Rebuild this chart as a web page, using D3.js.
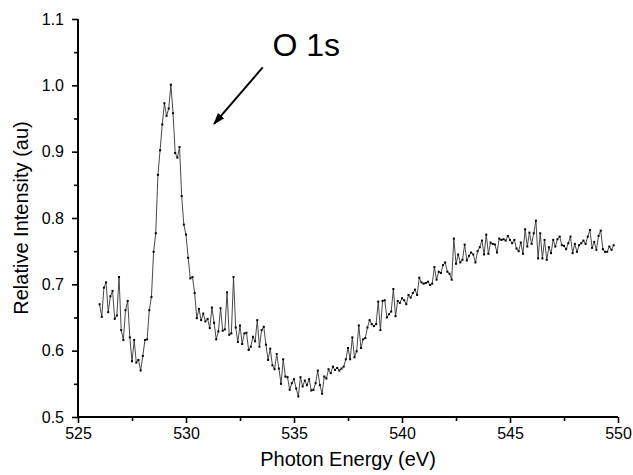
<!DOCTYPE html>
<html>
<head>
<meta charset="utf-8">
<script src="https://cdn.jsdelivr.net/npm/d3@7"></script>
<style>
  body { margin: 0; background: #fff; overflow: hidden; }
  text { font-family: Arial, "Liberation Sans", sans-serif; }
</style>
</head>
<body>
<svg id="plot" width="633" height="475"></svg>
<script>
// photon energy (eV), one sample every 0.1 eV
const energy = [
  526.0, 526.1, 526.2, 526.3, 526.4, 526.5, 526.6, 526.7, 526.8, 526.9,
  527.0, 527.1, 527.2, 527.3, 527.4, 527.5, 527.6, 527.7, 527.8, 527.9,
  528.0, 528.1, 528.2, 528.3, 528.4, 528.5, 528.6, 528.7, 528.8, 528.9,
  529.0, 529.1, 529.2, 529.3, 529.4, 529.5, 529.6, 529.7, 529.8, 529.9,
  530.0, 530.1, 530.2, 530.3, 530.4, 530.5, 530.6, 530.7, 530.8, 530.9,
  531.0, 531.1, 531.2, 531.3, 531.4, 531.5, 531.6, 531.7, 531.8, 531.9,
  532.0, 532.1, 532.2, 532.3, 532.4, 532.5, 532.6, 532.7, 532.8, 532.9,
  533.0, 533.1, 533.2, 533.3, 533.4, 533.5, 533.6, 533.7, 533.8, 533.9,
  534.0, 534.1, 534.2, 534.3, 534.4, 534.5, 534.6, 534.7, 534.8, 534.9,
  535.0, 535.1, 535.2, 535.3, 535.4, 535.5, 535.6, 535.7, 535.8, 535.9,
  536.0, 536.1, 536.2, 536.3, 536.4, 536.5, 536.6, 536.7, 536.8, 536.9,
  537.0, 537.1, 537.2, 537.3, 537.4, 537.5, 537.6, 537.7, 537.8, 537.9,
  538.0, 538.1, 538.2, 538.3, 538.4, 538.5, 538.6, 538.7, 538.8, 538.9,
  539.0, 539.1, 539.2, 539.3, 539.4, 539.5, 539.6, 539.7, 539.8, 539.9,
  540.0, 540.1, 540.2, 540.3, 540.4, 540.5, 540.6, 540.7, 540.8, 540.9,
  541.0, 541.1, 541.2, 541.3, 541.4, 541.5, 541.6, 541.7, 541.8, 541.9,
  542.0, 542.1, 542.2, 542.3, 542.4, 542.5, 542.6, 542.7, 542.8, 542.9,
  543.0, 543.1, 543.2, 543.3, 543.4, 543.5, 543.6, 543.7, 543.8, 543.9,
  544.0, 544.1, 544.2, 544.3, 544.4, 544.5, 544.6, 544.7, 544.8, 544.9,
  545.0, 545.1, 545.2, 545.3, 545.4, 545.5, 545.6, 545.7, 545.8, 545.9,
  546.0, 546.1, 546.2, 546.3, 546.4, 546.5, 546.6, 546.7, 546.8, 546.9,
  547.0, 547.1, 547.2, 547.3, 547.4, 547.5, 547.6, 547.7, 547.8, 547.9,
  548.0, 548.1, 548.2, 548.3, 548.4, 548.5, 548.6, 548.7, 548.8, 548.9,
  549.0, 549.1, 549.2, 549.3, 549.4, 549.5, 549.6, 549.7, 549.8
];

// relative intensity (au)
const intensity = [
  0.670, 0.651, 0.695, 0.703, 0.658, 0.682, 0.690, 0.648, 0.653, 0.711,
  0.631, 0.616, 0.661, 0.675, 0.620, 0.584, 0.616, 0.582, 0.586, 0.570,
  0.592, 0.616, 0.617, 0.661, 0.681, 0.749, 0.777, 0.865, 0.902, 0.941,
  0.973, 0.954, 0.965, 1.001, 0.958, 0.898, 0.891, 0.907, 0.833, 0.790,
  0.775, 0.740, 0.709, 0.711, 0.687, 0.649, 0.663, 0.646, 0.656, 0.644,
  0.648, 0.634, 0.665, 0.642, 0.617, 0.629, 0.664, 0.630, 0.632, 0.688,
  0.624, 0.626, 0.711, 0.635, 0.613, 0.638, 0.610, 0.626, 0.627, 0.601,
  0.606, 0.621, 0.614, 0.646, 0.606, 0.631, 0.636, 0.609, 0.586, 0.603,
  0.578, 0.572, 0.595, 0.573, 0.550, 0.587, 0.561, 0.560, 0.541, 0.551,
  0.557, 0.543, 0.531, 0.560, 0.546, 0.555, 0.548, 0.557, 0.540, 0.541,
  0.551, 0.570, 0.548, 0.535, 0.561, 0.558, 0.572, 0.566, 0.576, 0.571,
  0.574, 0.570, 0.573, 0.576, 0.587, 0.604, 0.587, 0.620, 0.590, 0.599,
  0.638, 0.604, 0.617, 0.619, 0.635, 0.646, 0.640, 0.637, 0.640, 0.674,
  0.631, 0.675, 0.676, 0.650, 0.655, 0.659, 0.693, 0.652, 0.675, 0.672,
  0.679, 0.676, 0.670, 0.684, 0.680, 0.687, 0.692, 0.684, 0.710, 0.703,
  0.701, 0.702, 0.704, 0.699, 0.701, 0.726, 0.707, 0.719, 0.717, 0.729,
  0.733, 0.719, 0.716, 0.707, 0.769, 0.731, 0.745, 0.733, 0.737, 0.760,
  0.736, 0.743, 0.748, 0.745, 0.733, 0.750, 0.756, 0.766, 0.745, 0.775,
  0.746, 0.763, 0.761, 0.760, 0.748, 0.769, 0.767, 0.768, 0.766, 0.773,
  0.767, 0.762, 0.767, 0.754, 0.750, 0.763, 0.746, 0.783, 0.757, 0.778,
  0.761, 0.777, 0.796, 0.739, 0.777, 0.739, 0.767, 0.737, 0.756, 0.747,
  0.767, 0.757, 0.768, 0.772, 0.759, 0.758, 0.753, 0.762, 0.772, 0.747,
  0.761, 0.749, 0.759, 0.762, 0.766, 0.761, 0.772, 0.782, 0.755, 0.764,
  0.752, 0.773, 0.781, 0.753, 0.749, 0.749, 0.757, 0.752, 0.759
];

const xTicks = [525, 530, 535, 540, 545, 550];
const xMinorTicks = [527.5, 532.5, 537.5, 542.5, 547.5];
const yTicks = [0.5, 0.6, 0.7, 0.8, 0.9, 1.0, 1.1];
const yMinorTicks = [0.55, 0.65, 0.75, 0.85, 0.95, 1.05];

const xLabel = 'Photon Energy (eV)';
const yLabel = 'Relative Intensity (au)';
const peakLabel = 'O 1s';
// annotation anchors in data units
const peakLabelAt = [534.0, 1.044];
const arrowFrom = [533.55, 1.027];
const arrowTo = [531.3, 0.942];

const data = energy.map((e, i) => ({ e, v: intensity[i] }));

const svg = d3.select('#plot');
const width = +svg.attr('width');
const height = +svg.attr('height');

const margin = { top: 19, right: 15, bottom: 58, left: 78 };
const innerWidth = width - margin.left - margin.right;
const innerHeight = height - margin.top - margin.bottom;

const g = svg.append('g')
  .attr('transform', `translate(${margin.left}, ${margin.top})`);

const xScale = d3.scaleLinear()
  .domain([525, 550])
  .range([0, innerWidth]);

const yScale = d3.scaleLinear()
  .domain([0.5, 1.1])
  .range([innerHeight, 0]);

const axisStyle = axisG => {
  axisG.selectAll('.domain').remove();
  axisG.selectAll('line')
    .attr('stroke', '#000')
    .attr('stroke-width', 1.6);
  axisG.selectAll('text')
    .attr('fill', '#000')
    .attr('font-size', 16);
};

// minor ticks: just the marks, no labels
const minorTicks = axisG => {
  axisG.selectAll('.domain').remove();
  axisG.selectAll('text').remove();
  axisG.selectAll('line')
    .attr('stroke', '#000')
    .attr('stroke-width', 1.6);
};

g.append('g')
  .attr('transform', `translate(0, ${innerHeight})`)
  .call(d3.axisBottom(xScale).tickValues(xMinorTicks).tickSize(4))
  .call(minorTicks);

g.append('g')
  .attr('class', 'x-axis')
  .attr('transform', `translate(0, ${innerHeight})`)
  .call(d3.axisBottom(xScale).tickValues(xTicks).tickSize(6).tickPadding(5).tickFormat(d3.format('d')))
  .call(axisStyle);

g.append('g')
  .call(d3.axisLeft(yScale).tickValues(yMinorTicks).tickSize(4))
  .call(minorTicks);

g.append('g')
  .attr('class', 'y-axis')
  .call(d3.axisLeft(yScale).tickValues(yTicks).tickSize(6).tickPadding(8).tickFormat(d3.format('.1f')))
  .call(axisStyle);

// thick axis lines (left + bottom only)
g.append('path')
  .attr('d', `M0,0V${innerHeight}H${innerWidth}`)
  .attr('fill', 'none')
  .attr('stroke', '#000')
  .attr('stroke-width', 2);

g.append('text')
  .attr('text-anchor', 'middle')
  .attr('x', innerWidth / 2)
  .attr('y', innerHeight + 49)
  .attr('font-size', 20)
  .attr('fill', '#000')
  .text(xLabel);

g.append('text')
  .attr('text-anchor', 'middle')
  .attr('transform', 'rotate(-90)')
  .attr('x', -innerHeight / 2)
  .attr('y', -50)
  .attr('font-size', 20)
  .attr('fill', '#000')
  .text(yLabel);

const line = d3.line()
  .x(d => xScale(d.e))
  .y(d => yScale(d.v));

g.append('path')
  .datum(data)
  .attr('d', line)
  .attr('fill', 'none')
  .attr('stroke', '#333')
  .attr('stroke-width', 0.9);

g.selectAll('rect.pt').data(data)
  .enter().append('rect')
    .attr('class', 'pt')
    .attr('x', d => xScale(d.e) - 1)
    .attr('y', d => yScale(d.v) - 1)
    .attr('width', 2)
    .attr('height', 2)
    .attr('fill', '#000');

// annotation
svg.append('defs').append('marker')
  .attr('id', 'head')
  .attr('viewBox', '0 0 10 10')
  .attr('refX', 9)
  .attr('refY', 5)
  .attr('markerWidth', 12)
  .attr('markerHeight', 12)
  .attr('markerUnits', 'userSpaceOnUse')
  .attr('orient', 'auto')
  .append('path')
    .attr('d', 'M0,1.5L10,5L0,8.5Z')
    .attr('fill', '#000');

g.append('line')
  .attr('x1', xScale(arrowFrom[0]))
  .attr('y1', yScale(arrowFrom[1]))
  .attr('x2', xScale(arrowTo[0]))
  .attr('y2', yScale(arrowTo[1]))
  .attr('stroke', '#000')
  .attr('stroke-width', 2)
  .attr('marker-end', 'url(#head)');

g.append('text')
  .attr('x', xScale(peakLabelAt[0]))
  .attr('y', yScale(peakLabelAt[1]))
  .attr('font-size', 32)
  .attr('fill', '#000')
  .text(peakLabel);
</script>
</body>
</html>
